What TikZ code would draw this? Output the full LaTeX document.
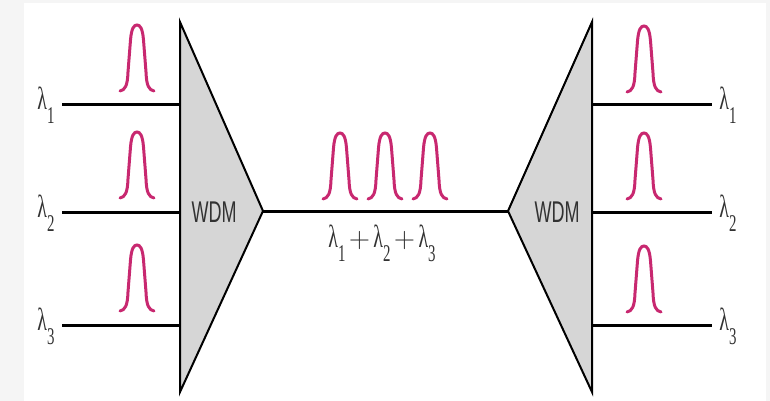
\documentclass[tikz,border=0pt]{standalone}
\usepackage{fontspec}
\newfontfamily\wdmfont[FakeStretch=0.6]{Liberation Sans}
\newfontfamily\lamfont[FakeStretch=0.62]{Liberation Serif}
\definecolor{pulsecol}{RGB}{200,40,112}
\definecolor{muxgray}{RGB}{214,214,214}
\definecolor{framegray}{RGB}{245,245,245}
\definecolor{textgray}{RGB}{50,50,50}
% wavelength label: lambda with a low subscript
\newcommand{\wl}[1]{{\lamfont\fontsize{16}{16}\selectfont λ\raisebox{-7pt}{\fontsize{12}{12}\selectfont #1}}}
\tikzset{
  fiber/.style={line width=1.5pt},
  muxbox/.style={draw=black, fill=muxgray, line width=1pt, line join=miter},
  wdmlabel/.style={font=\wdmfont\fontsize{15}{15}\selectfont, text=textgray, inner sep=0pt},
  wllabel/.style={text=textgray, inner sep=0pt, anchor=base west},
  pulse/.pic={
    \draw[pulsecol, line width=1.5pt, line cap=round]
      (-17,-1) .. controls (-12,-2) and (-9.5,-6) .. (-9,-20) -- (-6.5,-52)
      .. controls (-5.5,-64) and (-3,-67) .. (0,-67)
      .. controls (3,-67) and (5.5,-64) .. (6.5,-52) -- (9,-20)
      .. controls (9.5,-6) and (12,-2) .. (17,-1);
  }
}
\begin{document}
\begin{tikzpicture}[x=0.5pt, y=-0.5pt]
  % 1. frame and background
  \fill[framegray] (0,0) rectangle (770,401);
  \fill[white] (24,3) rectangle (766,401);
  \useasboundingbox (0,0) rectangle (770,401);

  % 2. the two WDM triangles
  \coordinate (muxtop) at (180,22);
  \coordinate (muxout) at (263,211);
  \coordinate (muxbot) at (180,392);
  \coordinate (demuxtop) at (592,22);
  \coordinate (demuxin) at (508,211);
  \coordinate (demuxbot) at (592,392);
  \draw[muxbox] (muxtop) -- (muxout) -- (muxbot) -- cycle;
  \draw[muxbox] (demuxtop) -- (demuxin) -- (demuxbot) -- cycle;
  \node[wdmlabel] (mux) at (214,212) {WDM};
  \node[wdmlabel] (demux) at (557,212) {WDM};

  % 3. input and output fibers with their labels and pulses
  \foreach \y/\n in {105/1, 212/2, 325/3} {
    \coordinate (in\n) at (62,\y);
    \coordinate (muxin\n) at (180,\y);
    \coordinate (demuxout\n) at (592,\y);
    \coordinate (out\n) at (712,\y);
    \draw[fiber] (in\n) -- (muxin\n);
    \draw[fiber] (demuxout\n) -- (out\n);
    \node[wllabel] (lin\n) at (37,\y+5) {\wl{\n}};
    \node[wllabel] (lout\n) at (719,\y+5) {\wl{\n}};
    \pic at (137,\y-13) {pulse};
    \pic at (644,\y-12) {pulse};
  }

  % 4. shared fiber between the two WDMs
  \draw[fiber] (muxout) -- (demuxin);
  \foreach \x in {340,385,430}
    \pic at (\x,200) {pulse};
  \node[wllabel] (lsum) at (328,247)
    {\wl{1}\,{\fontsize{14}{14}\selectfont +}\,\wl{2}\,{\fontsize{14}{14}\selectfont +}\,\wl{3}};
\end{tikzpicture}
\end{document}
